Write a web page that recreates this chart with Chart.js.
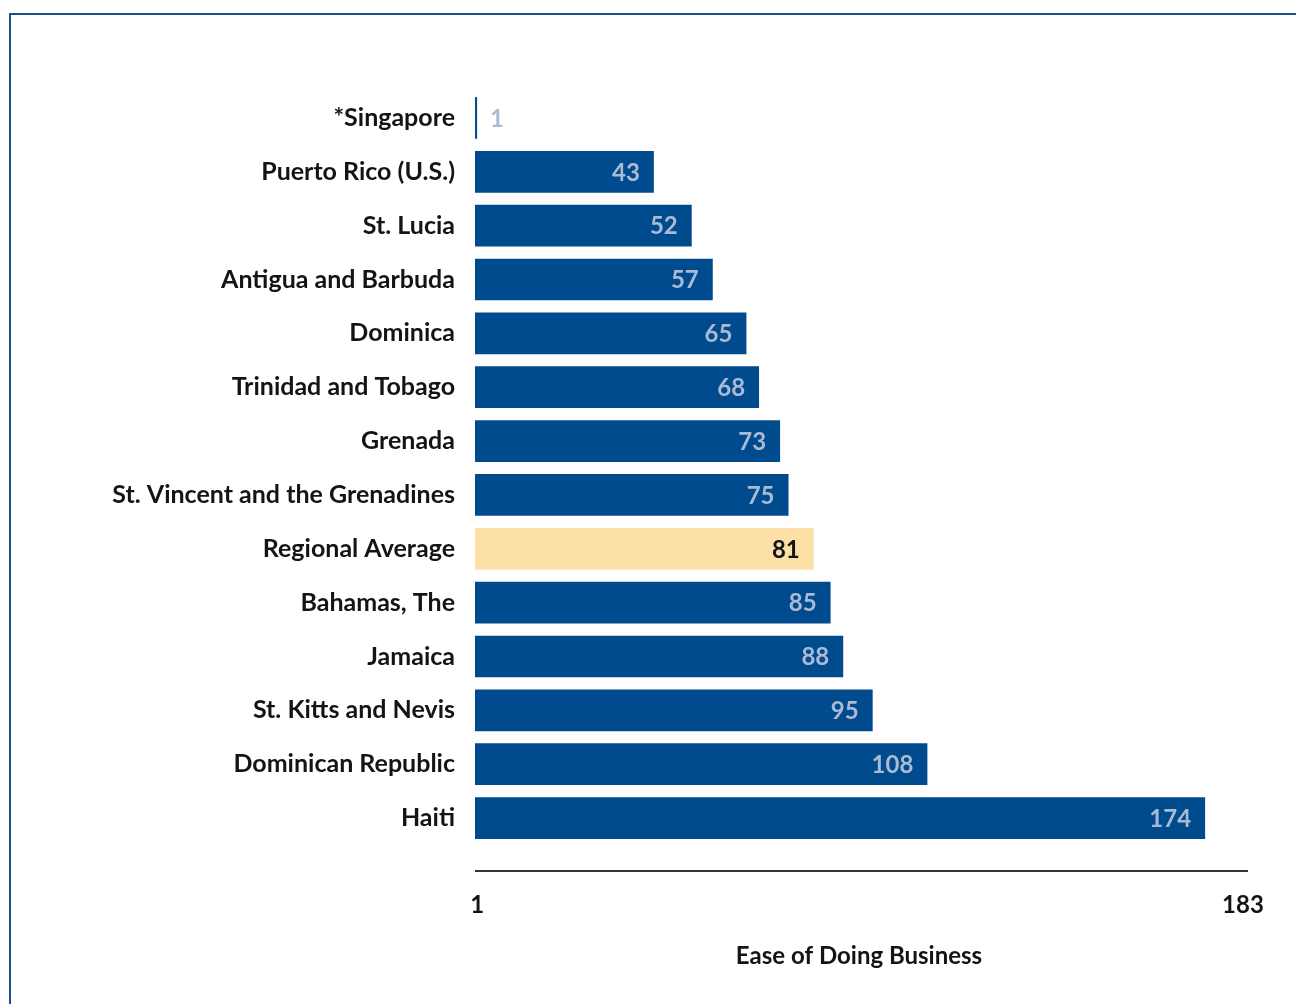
<!DOCTYPE html>
<html>
<head>
<meta charset="utf-8">
<script src="https://cdn.jsdelivr.net/npm/chart.js@4/dist/chart.umd.min.js"></script>
<style>
  html, body { margin: 0; padding: 0; background: #fff; }
  #wrap { position: relative; width: 1296px; height: 1004px; overflow: hidden; }
  #frame { position: absolute; left: 9px; top: 13px; width: 1400px; height: 1100px;
           border-top: 2px solid #1d4f8f; border-left: 2px solid #1d4f8f; }
  canvas { position: absolute; left: 0; top: 0; }
</style>
</head>
<body>
<div id="wrap">
  <div id="frame"></div>
  <canvas id="bar-chart" width="1296" height="1004"></canvas>
</div>
<script>
var countries = [ "*Singapore", "Puerto Rico (U.S.)", "St. Lucia", "Antigua and Barbuda", "Dominica",
                  "Trinidad and Tobago", "Grenada", "St. Vincent and the Grenadines", "Regional Average",
                  "Bahamas, The", "Jamaica", "St. Kitts and Nevis", "Dominican Republic", "Haiti" ],
    ranks = [ 1, 43, 52, 57, 65, 68, 73, 75, 81, 85, 88, 95, 108, 174 ],
    axisTicks = [ 1, 183 ],
    axisTitle = "Ease of Doing Business";

var blue = "rgba(0, 75, 141, 1)",
    sand = "rgba(253, 223, 168, 1)",
    labelBlue = "rgba(170, 186, 212, 1)",
    ink = "rgba(20, 20, 20, 1)",
    font = "Lato, 'Open Sans', sans-serif";

var barColors = countries.map(function (c) {
    return c === "Regional Average" ? sand : blue
});

// value labels at bar ends, plus the axis line drawn below the plot
var barLabels = {
    id: "barLabels",
    afterDatasetsDraw: function (chart) {
        var ctx = chart.ctx,
            meta = chart.getDatasetMeta(0),
            area = chart.chartArea;
        ctx.save();
        ctx.font = "bold 24px " + font;
        ctx.textBaseline = "middle";
        meta.data.forEach(function (bar, i) {
            var v = ranks[i];
            if (bar.x - bar.base < 40) {
                ctx.textAlign = "left";
                ctx.fillStyle = labelBlue;
                ctx.fillText(v, bar.x + 13, bar.y + 1);
            } else {
                ctx.textAlign = "right";
                ctx.fillStyle = countries[i] === "Regional Average" ? ink : labelBlue;
                ctx.fillText(v, bar.x - 14, bar.y + 1);
            }
        });
        ctx.strokeStyle = "rgba(50, 50, 50, 1)";
        ctx.lineWidth = 2;
        ctx.beginPath();
        ctx.moveTo(area.left, area.bottom + 26);
        ctx.lineTo(area.right + 5, area.bottom + 26);
        ctx.stroke();
        ctx.restore();
    }
};

new Chart(document.getElementById("bar-chart").getContext("2d"), {
    type: "bar",
    data: {
        labels: countries,
        datasets: [ {
            data: ranks,
            backgroundColor: barColors,
            borderWidth: 0,
            barPercentage: 0.86,
            categoryPercentage: 0.9
        } ]
    },
    options: {
        indexAxis: "y",
        responsive: false,
        animation: false,
        layout: { padding: { top: 91, right: 53, left: 0, bottom: 0 } },
        plugins: { legend: { display: false }, tooltip: { enabled: false } },
        scales: {
            x: {
                min: 0.5,
                max: 183,
                grid: { display: false },
                border: { display: false },
                afterBuildTicks: function (s) {
                    s.ticks = axisTicks.map(function (v) { return { value: v } });
                },
                afterFit: function (s) {
                    s.height = 159;
                    s.paddingLeft = 0;
                    s.paddingRight = 0;
                },
                ticks: {
                    autoSkip: false,
                    maxRotation: 0,
                    padding: 38,
                    color: ink,
                    font: { family: font, size: 24, weight: "bold" }
                },
                title: {
                    display: true,
                    text: axisTitle,
                    color: ink,
                    padding: { top: 4, bottom: 33 },
                    font: { family: font, size: 24, weight: "bold" }
                }
            },
            y: {
                grid: { display: false },
                border: { display: false },
                afterFit: function (s) { s.width = 475 },
                ticks: {
                    padding: 12,
                    color: ink,
                    font: { family: font, size: 25, weight: "bold" }
                }
            }
        }
    },
    plugins: [ barLabels ]
});
</script>
</body>
</html>
